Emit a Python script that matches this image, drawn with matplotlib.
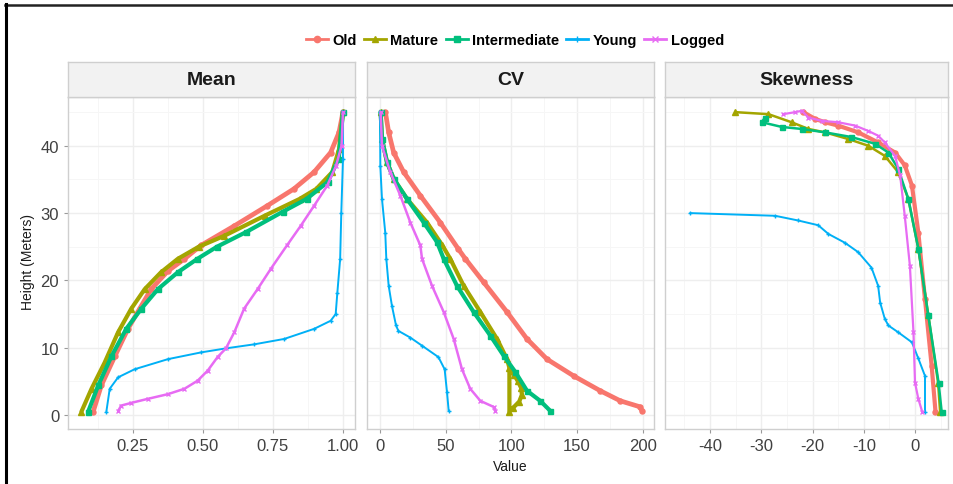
import matplotlib
matplotlib.use("Agg")
import matplotlib.pyplot as plt
from matplotlib.lines import Line2D
from matplotlib.ticker import AutoMinorLocator

plt.rcParams['font.family'] = ['Liberation Sans', 'DejaVu Sans']

# ---------------- data ----------------
series_names = ["Old", "Mature", "Intermediate", "Young", "Logged"]
series_colors = ["#F8766D", "#A3A500", "#00BF7D", "#00B0F6", "#E76BF3"]
series_markers = ["o", "^", "s", "+", "x"]
panel_titles = ["Mean", "CV", "Skewness"]

# Mean panel
mean_old_h = [0.5, 4.4, 8.7, 12.8, 15.8, 18.7, 21.4, 23.2, 25.2, 28.1, 31.1, 33.6, 36.1, 39.0, 42.0, 45.0]
mean_old_v = [0.108, 0.137, 0.185, 0.232, 0.274, 0.315, 0.375, 0.434, 0.493, 0.612, 0.73, 0.825, 0.897, 0.956, 0.986, 1.0]
mean_mat_h = [0.5, 3.9, 7.8, 12.3, 15.8, 18.7, 21.2, 23.2, 25.0, 26.6, 29.6, 32.1, 33.6, 36.1, 39.5, 45.0]
mean_mat_v = [0.066, 0.102, 0.149, 0.197, 0.244, 0.292, 0.35, 0.41, 0.485, 0.575, 0.72, 0.845, 0.905, 0.962, 0.986, 1.0]
mean_int_h = [0.5, 4.4, 8.7, 12.8, 15.8, 18.7, 21.2, 23.2, 25.0, 27.2, 30.2, 32.1, 34.6, 38.1, 45.0]
mean_int_v = [0.09, 0.126, 0.173, 0.226, 0.28, 0.339, 0.41, 0.48, 0.55, 0.655, 0.785, 0.87, 0.945, 0.985, 1.0]
mean_yng_h = [0.5, 3.9, 5.6, 6.8, 8.3, 9.3, 9.9, 10.5, 11.3, 12.8, 14.0, 15.0, 18.2, 23.2, 30.0, 38.0, 45.0]
mean_yng_v = [0.155, 0.167, 0.197, 0.256, 0.375, 0.493, 0.582, 0.683, 0.79, 0.897, 0.956, 0.974, 0.98, 0.99, 0.994, 1.0, 1.0]
mean_log_h = [0.6, 1.4, 1.8, 2.4, 3.1, 3.9, 5.1, 6.6, 8.6, 9.9, 12.3, 15.8, 18.7, 21.7, 25.2, 28.1, 31.1, 34.1, 37.0, 40.0, 45.0]
mean_log_v = [0.197, 0.208, 0.244, 0.303, 0.375, 0.434, 0.481, 0.517, 0.552, 0.582, 0.612, 0.647, 0.695, 0.742, 0.80, 0.849, 0.897, 0.944, 0.975, 0.995, 1.0]

# CV panel
cv_old_h = [45.0, 42.0, 39.0, 36.1, 32.6, 28.6, 24.7, 23.2, 19.7, 15.3, 11.3, 8.3, 5.8, 3.6, 2.1, 1.2, 0.6]
cv_old_v = [4.1, 6.6, 10.4, 18.0, 30.7, 45.9, 59.5, 65.0, 79.0, 96.7, 111.9, 127.1, 147.5, 167.7, 183.0, 198.2, 199.5]
cv_mat_h = [45.0, 41.0, 37.6, 35.1, 32.1, 28.6, 25.2, 23.2, 19.2, 15.3, 11.3, 8.3, 7.0, 0.5, 1.0, 2.0, 3.0, 4.0, 5.0, 6.0, 6.5]
cv_mat_v = [0.5, 1.5, 5.3, 10.4, 20.6, 35.8, 47.5, 53.5, 63.7, 76.4, 89.1, 96.7, 98.5, 98.5, 101.0, 106.0, 108.0, 107.5, 105.0, 102.0, 100.0]
cv_int_h = [45.0, 41.0, 37.6, 35.1, 32.1, 28.6, 25.7, 23.2, 19.2, 15.3, 11.8, 8.8, 6.4, 3.6, 2.1, 0.6]
cv_int_v = [0.5, 1.5, 5.3, 10.4, 20.6, 33.3, 43.4, 48.5, 58.6, 71.3, 84.0, 94.2, 103.0, 111.9, 122.0, 129.7]
cv_yng_h = [45.0, 37.0, 32.1, 27.1, 23.2, 19.2, 16.2, 13.3, 12.5, 11.5, 10.3, 8.6, 6.8, 3.4, 0.6]
cv_yng_v = [0.0, 0.25, 1.5, 4.0, 4.8, 6.6, 9.1, 12.2, 14.0, 23.1, 32.0, 44.5, 49.2, 51.0, 52.3]
cv_log_h = [45.0, 40.0, 36.1, 32.6, 28.6, 25.2, 23.2, 19.2, 15.3, 11.3, 6.8, 3.9, 2.1, 1.2, 0.6]
cv_log_v = [0.5, 1.5, 7.8, 15.5, 23.1, 30.7, 32.0, 39.6, 48.5, 56.1, 62.4, 68.7, 76.4, 86.5, 87.8]

# Skewness panel
sk_old_h = [45.0, 44.0, 43.5, 43.0, 42.0, 40.5, 39.0, 37.1, 34.1, 27.1, 17.2, 7.3, 0.5]
sk_old_v = [-21.8, -19.5, -17.6, -15.0, -11.1, -7.2, -3.9, -2.0, -0.6, 0.65, 1.95, 3.25, 4.0]
sk_mat_h = [45.0, 44.7, 43.5, 42.5, 42.0, 41.0, 40.0, 38.5, 36.1, 32.1, 24.7, 14.8, 4.8, 0.5]
sk_mat_v = [-35.1, -28.6, -24.1, -20.8, -17.6, -13.0, -9.1, -5.9, -3.3, -1.3, 0.65, 2.6, 4.5, 4.9]
sk_int_h = [44.2, 43.5, 42.8, 42.5, 42.0, 41.3, 40.3, 39.0, 36.6, 32.1, 24.7, 14.8, 4.8, 0.5]
sk_int_v = [-29.3, -29.9, -26.0, -22.1, -17.6, -12.4, -7.8, -5.2, -3.3, -1.3, 0.65, 2.6, 4.6, 5.2]
sk_yng_h = [30.0, 29.6, 28.9, 28.2, 26.9, 25.6, 24.2, 21.9, 19.2, 16.7, 14.3, 13.3, 12.3, 10.8, 8.4, 5.8, 0.4]
sk_yng_v = [-43.9, -27.3, -22.8, -18.9, -16.9, -13.7, -11.1, -8.5, -7.2, -6.8, -5.9, -5.2, -3.3, -0.6, 0.65, 1.95, 1.95]
sk_log_h = [44.7, 45.0, 45.2, 44.2, 43.7, 43.5, 43.0, 42.2, 41.5, 40.5, 38.5, 35.6, 29.6, 22.2, 12.3, 4.8, 2.4, 0.5]
sk_log_v = [-25.7, -23.4, -22.1, -20.8, -18.2, -15.0, -11.7, -9.1, -7.2, -5.9, -3.9, -2.9, -2.0, -1.0, -0.3, 0.0, 0.65, 1.4]

mean_ticks = [0.25, 0.50, 0.75, 1.00]
mean_ticklabels = ["0.25", "0.50", "0.75", "1.00"]
cv_ticks = [0, 50, 100, 150, 200]
sk_ticks = [-40, -30, -20, -10, 0]
y_ticks = [0, 10, 20, 30, 40]

panels = [
    [(mean_old_v, mean_old_h), (mean_mat_v, mean_mat_h), (mean_int_v, mean_int_h),
     (mean_yng_v, mean_yng_h), (mean_log_v, mean_log_h)],
    [(cv_old_v, cv_old_h), (cv_mat_v, cv_mat_h), (cv_int_v, cv_int_h),
     (cv_yng_v, cv_yng_h), (cv_log_v, cv_log_h)],
    [(sk_old_v, sk_old_h), (sk_mat_v, sk_mat_h), (sk_int_v, sk_int_h),
     (sk_yng_v, sk_yng_h), (sk_log_v, sk_log_h)],
]

# ---------------- layout ----------------
W, H = 954, 485
fig = plt.figure(figsize=(W / 100, H / 100), dpi=100)

def rect(l, t, r, b):
    return [l / W, 1 - b / H, (r - l) / W, (b - t) / H]

panel_px = [(68, 355), (367, 654), (665, 948)]
xlims = [(0.018, 1.043), (-9.9, 208.6), (-48.8, 6.44)]
xticks = [mean_ticks, cv_ticks, sk_ticks]
xticklabels = [mean_ticklabels, [str(t) for t in cv_ticks], [str(t) for t in sk_ticks]]
line_w = [[3.4, 3.0, 3.0, 1.4, 1.8], [3.4, 3.0, 3.0, 1.4, 1.8], [3.0, 1.8, 1.8, 1.4, 1.6]]
mark_s = [3.6, 4.0, 3.6, 3.5, 3.2]

grid_major = "#EEEEEE"
grid_minor = "#F6F6F6"
border_c = "#CFCFCF"
tick_c = "#404040"

for i, (l, r) in enumerate(panel_px):
    ax = fig.add_axes(rect(l, 98, r, 430))
    ax.set_xlim(*xlims[i])
    ax.set_ylim(-2.08, 47.25)
    ax.set_xticks(xticks[i])
    ax.set_xticklabels(xticklabels[i])
    ax.set_yticks(y_ticks)
    ax.xaxis.set_minor_locator(AutoMinorLocator(2))
    ax.yaxis.set_minor_locator(AutoMinorLocator(2))
    ax.grid(which="major", color=grid_major, lw=1.0, zorder=0)
    ax.grid(which="minor", color=grid_minor, lw=0.7, zorder=0)
    ax.set_axisbelow(True)
    for sp in ax.spines.values():
        sp.set_color(border_c)
        sp.set_linewidth(1.0)
    ax.tick_params(which="major", length=2.8, width=0.8, color="#9A9A9A",
                   labelsize=12, labelcolor=tick_c, pad=3.5)
    ax.tick_params(which="minor", length=0)
    if i > 0:
        ax.tick_params(axis="y", which="both", left=False, labelleft=False)
    for k, (vals, hts) in enumerate(panels[i]):
        ax.plot(vals, hts, color=series_colors[k], lw=line_w[i][k],
                marker=series_markers[k], ms=mark_s[k], mew=1.0,
                solid_joinstyle="round", solid_capstyle="round", zorder=2 + k)

    sax = fig.add_axes(rect(l, 63, r, 98))
    sax.set_facecolor("#F2F2F2")
    sax.set_xticks([])
    sax.set_yticks([])
    for sp in sax.spines.values():
        sp.set_color(border_c)
        sp.set_linewidth(1.0)
    sax.text(0.5, 0.5, panel_titles[i], ha="center", va="center",
             fontsize=14, fontweight="bold", color="#1A1A1A", transform=sax.transAxes)

# axis titles
fig.text(510 / W, 1 - 467 / H, "Value", ha="center", va="center", fontsize=10, color="#1A1A1A")
fig.text(28 / W, 1 - 262 / H, "Height (Meters)", ha="center", va="center",
         rotation=90, fontsize=10, color="#1A1A1A")

# legend
handles = [Line2D([0], [0], color=c, lw=2.0, marker=m, ms=4.5)
           for c, m in zip(series_colors, series_markers)]
leg = fig.legend(handles, series_names, loc="center", bbox_to_anchor=(515 / W, 1 - 41 / H),
                 ncol=5, frameon=False, handlelength=1.5, handletextpad=0.3,
                 columnspacing=0.5, prop={"weight": "bold", "size": 10.5})

# black frame lines (top and left)
fig.add_artist(Line2D([5 / W, 1.0], [1 - 5.5 / H, 1 - 5.5 / H], color="#222222", lw=1.8))
fig.add_artist(Line2D([6 / W, 6 / W], [0.0, 1 - 5 / H], color="black", lw=2.2))

fig.savefig("out.png", dpi=100)
